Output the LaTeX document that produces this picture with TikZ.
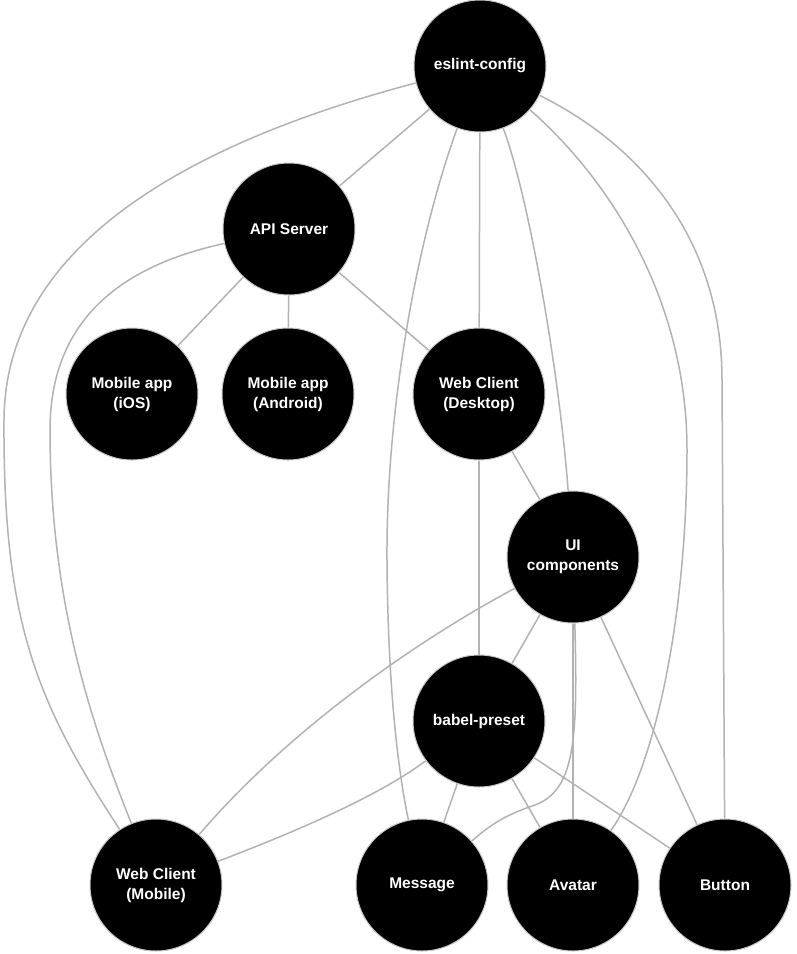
\documentclass[tikz,border=0pt]{standalone}
\usepackage{fontspec}
\setmainfont{Liberation Sans}
\usetikzlibrary{backgrounds}
\begin{document}
\begin{tikzpicture}[x=1pt,y=-1pt,
  pkg/.style={circle, fill=black, draw=black!22, line width=1pt, minimum size=132pt, inner sep=0pt,
    text=white, align=center, font=\bfseries\fontsize{15.5}{20}\selectfont},
  link/.style={draw=black!30, line width=1.5pt}]
\useasboundingbox (0,0) rectangle (796,954);
\node[pkg] (esl) at (480,66) {eslint-config};
\node[pkg] (api) at (289,229) {API Server};
\node[pkg] (ios) at (132,394) {Mobile app\\(iOS)};
\node[pkg] (and) at (288,394) {Mobile app\\(Android)};
\node[pkg] (wcd) at (479,394) {Web Client\\(Desktop)};
\node[pkg] (ui)  at (573,557) {UI\\components};
\node[pkg] (bab) at (479,721) {babel-preset};
\node[pkg] (wcm) at (156,885) {Web Client\\(Mobile)};
\node[pkg] (msg) at (422,885) {Message};
\node[pkg] (ava) at (573,885) {Avatar};
\node[pkg] (btn) at (725,885) {Button};
\begin{scope}[on background layer]
\draw[link] (esl) -- (api);
\draw[link] (esl) .. controls (200,140) and (5,240) .. (4,420) .. controls (3,620) and (35,700) .. (wcm);
\draw[link] (esl) .. controls (420,230) and (386,400) .. (387,560) .. controls (388,700) and (400,780) .. (msg);
\draw[link] (esl) -- (wcd);
\draw[link] (esl) .. controls (530,200) and (560,380) .. (ui);
\draw[link] (esl) .. controls (610,180) and (687,300) .. (687,450) .. controls (687,600) and (660,760) .. (ava);
\draw[link] (esl) .. controls (630,140) and (722,230) .. (722,380) -- (btn);
\draw[link] (api) -- (ios);
\draw[link] (api) -- (and);
\draw[link] (api) -- (wcd);
\draw[link] (api) .. controls (150,260) and (50,300) .. (50,430) .. controls (50,600) and (90,720) .. (wcm);
\draw[link] (wcd) -- (ui);
\draw[link] (wcd) -- (bab);
\draw[link] (ui) .. controls (400,650) and (280,740) .. (wcm);
\draw[link] (ui) -- (bab);
\draw[link] (ui) -- (ava);
\draw[link] (ui) -- (btn);
\draw[link] (ui) .. controls (578,740) and (575,790) .. (535,805) .. controls (505,815) and (490,825) .. (msg);
\draw[link] (bab) .. controls (380,795) and (300,830) .. (wcm);
\draw[link] (bab) -- (msg);
\draw[link] (bab) -- (ava);
\draw[link] (bab) -- (btn);
\end{scope}
\end{tikzpicture}
\end{document}
